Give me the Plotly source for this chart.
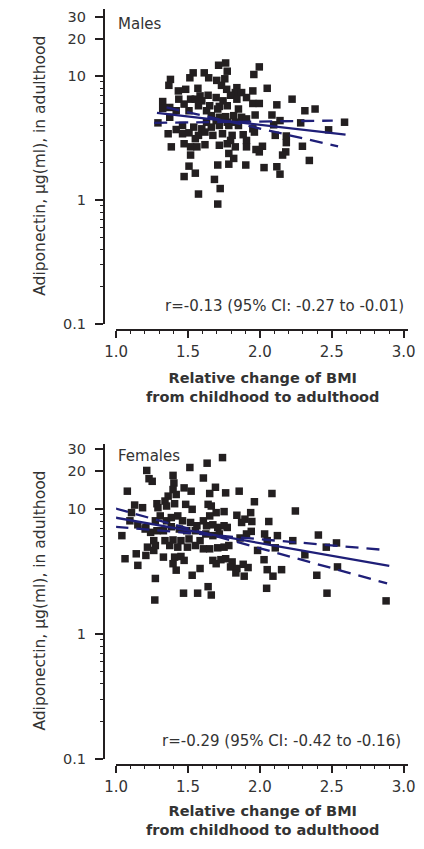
import plotly.graph_objects as go

# ---------------- data ----------------
male_x = [1.713, 1.762, 1.773, 1.536, 1.613, 1.513, 1.644, 1.700, 1.756, 1.378,
          1.367, 1.733, 1.769, 1.840, 1.484, 1.569, 1.433, 1.829, 1.873, 1.796,
          1.584, 1.640, 1.696, 1.436, 1.518, 1.551, 1.596, 1.324, 1.744, 1.840,
          1.907, 1.473, 1.573, 1.651, 1.718, 1.773, 1.324, 1.373, 1.418, 1.507,
          1.629, 1.707, 1.851, 1.373, 1.662, 1.718, 1.762, 1.818, 1.873, 1.907,
          1.291, 1.629, 1.696, 1.773, 1.829, 1.462, 1.540, 1.596, 1.662, 1.718,
          1.784, 1.851, 1.418, 1.362, 1.462, 1.507, 1.573, 1.618, 1.673, 1.740,
          1.807, 1.884, 1.551, 1.796, 1.907, 1.473, 1.618, 1.518, 1.562, 1.384,
          1.718, 1.773, 1.829, 1.907, 1.784, 1.518, 1.707, 1.818, 1.784, 1.902,
          1.507, 1.551, 1.473, 1.684, 1.724, 1.573, 1.707,
          1.996, 1.958, 1.951, 2.051, 1.951, 1.996, 2.224, 2.118, 2.313, 2.384,
          1.967, 2.084, 2.140, 2.284, 2.589, 2.096, 2.478, 1.951, 1.962, 2.107,
          2.184, 2.184, 2.296, 2.018, 1.973, 1.996, 2.180, 2.158, 2.344, 2.029,
          2.118, 2.140]
male_y = [12.24, 12.77, 10.96, 10.63, 10.63, 9.70, 9.70, 9.24, 9.52, 9.41,
          8.43, 8.43, 7.83, 8.07, 7.83, 7.98, 7.60, 7.37, 7.37, 7.01,
          6.93, 7.01, 6.72, 6.52, 6.52, 6.52, 6.32, 6.24, 6.32, 6.52,
          6.72, 5.95, 5.77, 5.77, 5.70, 5.77, 5.49, 5.59, 5.26, 5.26,
          5.26, 5.43, 5.43, 4.66, 4.80, 4.66, 4.71, 4.80, 4.66, 4.52,
          4.20, 4.25, 4.38, 4.25, 4.25, 4.00, 3.88, 3.76, 3.88, 4.00,
          4.00, 4.00, 3.71, 3.43, 3.43, 3.49, 3.33, 3.54, 3.33, 3.43,
          3.33, 3.37, 3.13, 3.03, 3.03, 2.85, 2.80, 2.69, 2.69, 2.69,
          2.77, 2.85, 2.69, 2.69, 2.38, 2.31, 1.92, 2.17, 1.95, 1.92,
          1.88, 1.65, 1.55, 1.47, 1.24, 1.12, 0.93,
          11.87, 10.31, 7.60, 7.98, 6.02, 6.02, 6.52, 5.87, 5.26, 5.43,
          4.86, 4.86, 4.38, 4.20, 4.25, 4.05, 3.69, 3.76, 3.54, 3.33,
          3.29, 2.91, 2.72, 2.72, 2.56, 2.45, 2.45, 2.31, 2.09, 1.83,
          1.86, 1.62]

female_x = [1.213, 1.229, 1.251, 1.396, 1.513, 1.402, 1.078, 1.396, 1.473, 1.522,
            1.362, 1.418, 1.284, 1.340, 1.129, 1.184, 1.107, 1.291, 1.351, 1.407,
            1.484, 1.529, 1.096, 1.151, 1.207, 1.273, 1.307, 1.351, 1.384, 1.429,
            1.462, 1.518, 1.562, 0.989, 1.040, 1.202, 1.240, 1.284, 1.329, 1.384,
            1.440, 1.491, 1.551, 1.262, 1.340, 1.396, 1.451, 1.507, 1.584, 1.218,
            1.273, 1.373, 1.429, 1.496, 1.551, 1.062, 1.140, 1.207, 1.262, 1.329,
            1.407, 1.451, 1.473, 1.396, 1.584, 1.151, 1.418, 1.529, 1.273, 1.269,
            1.469, 1.567, 1.607,
            1.740, 1.633, 1.691, 1.651, 1.762, 1.856, 2.084, 1.962, 1.640, 1.662,
            1.696, 1.651, 1.751, 1.840, 1.936, 1.896, 1.944, 2.062, 2.247, 1.607,
            1.629, 1.673, 1.707, 1.751, 1.773, 1.624, 1.673, 1.718, 1.940, 1.873,
            2.033, 2.122, 2.229, 1.907, 1.862, 2.051, 1.607, 1.651, 1.707, 1.751,
            1.784, 1.984, 2.107, 1.673, 1.696, 1.729, 1.762, 1.807, 1.796, 1.840,
            1.884, 1.918, 1.833, 1.891, 2.029, 2.051, 2.091, 2.151, 1.640, 1.662,
            2.047,
            2.407, 2.462, 2.533, 2.313, 2.540, 2.396, 2.467, 2.878]
female_y = [20.34, 17.47, 16.65, 18.57, 21.48, 16.15, 13.88, 14.30, 14.75, 13.88,
            12.67, 13.06, 11.02, 11.57, 10.75, 10.24, 9.35, 10.24, 10.56, 11.02,
            10.89, 9.94, 8.04, 7.47, 7.12, 8.04, 8.80, 8.04, 8.54, 8.80,
            8.04, 7.80, 7.34, 6.12, 6.12, 6.91, 6.50, 6.70, 6.70, 7.21,
            6.91, 6.70, 6.70, 5.58, 5.58, 5.65, 5.58, 5.76, 5.58, 4.95,
            5.10, 5.10, 4.95, 4.95, 5.10, 4.00, 4.38, 4.25, 4.66, 4.12,
            4.12, 4.17, 3.88, 3.65, 3.34, 3.54, 3.24, 2.95, 2.78, 1.87,
            2.12, 2.12, 17.69,
            25.77, 23.25, 14.92, 13.30, 13.46, 13.88, 13.30, 11.43, 10.89, 10.56,
            9.35, 8.80, 9.53, 8.91, 9.35, 8.29, 7.94, 7.94, 9.64, 8.04,
            7.34, 7.47, 7.12, 7.34, 7.12, 6.31, 6.12, 6.31, 6.62, 7.80,
            6.31, 6.12, 5.58, 6.31, 5.86, 5.58, 4.80, 4.80, 4.89, 4.95,
            5.10, 4.66, 4.89, 3.88, 3.65, 3.93, 4.00, 3.77, 3.44, 3.34,
            3.61, 3.40, 3.08, 2.90, 3.93, 3.27, 2.90, 3.27, 2.39, 2.05,
            2.32,
            6.19, 4.95, 5.35, 4.30, 3.44, 2.95, 2.12, 1.84]

assert len(male_x) == len(male_y)
assert len(female_x) == len(female_y)

# regression line and 95% CI lines
m_fit_x, m_fit_y = [1.284, 2.596], [5.05, 3.37]
m_ci_a_x, m_ci_a_y = [1.265, 2.507], [4.20, 4.38]
m_ci_b_x, m_ci_b_y = [1.351, 2.544], [5.59, 2.72]

f_fit_x, f_fit_y = [0.995, 2.900], [8.53, 3.50]
f_ci_a_x, f_ci_a_y = [0.995, 2.885], [10.1, 2.54]
f_ci_b_x, f_ci_b_y = [0.995, 2.833], [7.21, 4.74]

y_tickvals = [0.1, 1, 10, 20, 30]
y_ticktext = ["0.1", "1", "10", "20", "30"]
y_minor = [0.2, 0.3, 0.4, 0.5, 0.6, 0.7, 0.8, 0.9, 2, 3, 4, 5, 6, 7, 8, 9]
x_tickvals = [1.0, 1.5, 2.0, 2.5, 3.0]
x_ticktext = ["1.0", "1.5", "2.0", "2.5", "3.0"]

panel_labels = ["Males", "Females"]
r_texts = ["r=-0.13 (95% CI: -0.27 to -0.01)", "r=-0.29 (95% CI: -0.42 to -0.16)"]
x_title = "<b>Relative change of BMI</b><br><b>from childhood to adulthood</b>"
y_title = "Adiponectin, μg(ml), in adulthood"

# ---------------- styling ----------------
W, H = 424, 849
FONT = "DejaVu Sans"
TXT = "#333333"
AX = "#231f20"
NAVY = "#1f1f78"
MK = "#231f20"

def px_x(p):
    return p / W

def px_y(p):
    return 1 - p / H

fig = go.Figure()

def add_panel(xs, ys, fx, fy, ax_, ay_, bx_, by_, xa, ya):
    fig.add_trace(go.Scatter(x=xs, y=ys, mode="markers", xaxis=xa, yaxis=ya,
                             marker=dict(symbol="square", size=7.5, color=MK),
                             cliponaxis=False, showlegend=False, hoverinfo="skip"))
    fig.add_trace(go.Scatter(x=fx, y=fy, mode="lines", xaxis=xa, yaxis=ya,
                             line=dict(color=NAVY, width=2.3), showlegend=False,
                             hoverinfo="skip"))
    for lx, ly in [(ax_, ay_), (bx_, by_)]:
        fig.add_trace(go.Scatter(x=lx, y=ly, mode="lines", xaxis=xa, yaxis=ya,
                                 line=dict(color=NAVY, width=2.3, dash="13px,8px"),
                                 showlegend=False, hoverinfo="skip"))

add_panel(male_x, male_y, m_fit_x, m_fit_y, m_ci_a_x, m_ci_a_y, m_ci_b_x, m_ci_b_y, "x", "y")
add_panel(female_x, female_y, f_fit_x, f_fit_y, f_ci_a_x, f_ci_a_y, f_ci_b_x, f_ci_b_y, "x2", "y2")

xdom = [px_x(109), px_x(415)]
xrange_ = [1.0, 1.0 + (415 - 109) / 150.5]

def xaxis_cfg(pos):
    return dict(domain=xdom, range=xrange_, anchor="free", position=pos,
                showline=True, linecolor=AX, linewidth=1.5,
                showgrid=False, zeroline=False,
                tickmode="array", tickvals=x_tickvals, ticktext=x_ticktext,
                ticks="outside", ticklen=7, tickwidth=1.5, tickcolor=AX,
                minor=dict(dtick=0.1, tick0=1.0, ticks="outside", ticklen=3,
                           tickwidth=1, tickcolor=AX, showgrid=False),
                tickfont=dict(family=FONT, size=15, color=TXT),
                ticklabelstandoff=1, fixedrange=True)

def yaxis_cfg(dom, top):
    return dict(domain=dom, type="log", range=[-1, top], anchor="free",
                position=px_x(96),
                showline=True, linecolor=AX, linewidth=1.5,
                showgrid=False, zeroline=False,
                tickmode="array", tickvals=y_tickvals, ticktext=y_ticktext,
                ticks="outside", ticklen=8, tickwidth=1.5, tickcolor=AX,
                minor=dict(tickvals=y_minor, ticks="outside", ticklen=3,
                           tickwidth=1, tickcolor=AX, showgrid=False),
                tickfont=dict(family=FONT, size=14.5, color=TXT),
                ticklabelstandoff=6, fixedrange=True)

annotations = []
# panel labels, r-texts, axis titles
tops = [(22, 308, 390, 166, 412), (459, 748, 828, 606, 409)]
for i, (lab_y, r_y, xt_y, yt_c, r_x) in enumerate(tops):
    annotations.append(dict(text=panel_labels[i], x=px_x(109), y=px_y(lab_y),
                            xref="paper", yref="paper", xanchor="left", yanchor="middle",
                            showarrow=False, font=dict(family=FONT, size=15, color=TXT)))
    annotations.append(dict(text=r_texts[i], x=px_x(r_x), y=px_y(r_y),
                            xref="paper", yref="paper", xanchor="right", yanchor="middle",
                            showarrow=False, font=dict(family=FONT, size=15, color=TXT)))
    annotations.append(dict(text=x_title, x=px_x(262), y=px_y(xt_y),
                            xref="paper", yref="paper", xanchor="center", yanchor="middle",
                            showarrow=False, font=dict(family=FONT, size=14.5, color=TXT)))
    annotations.append(dict(text=y_title, x=px_x(29), y=px_y(yt_c), textangle=-90,
                            xref="paper", yref="paper", xanchor="center", yanchor="middle",
                            showarrow=False, font=dict(family=FONT, size=15.5, color=TXT)))

fig.update_layout(
    width=W, height=H, autosize=False,
    margin=dict(l=0, r=0, t=0, b=0),
    paper_bgcolor="white", plot_bgcolor="white",
    xaxis=xaxis_cfg(px_y(332)),
    yaxis=yaxis_cfg([px_y(326), px_y(7)], 1.542),
    xaxis2=xaxis_cfg(px_y(772)),
    yaxis2=yaxis_cfg([px_y(766), px_y(447)], 1.522),
    annotations=annotations,
    showlegend=False,
)

fig.write_html("out.html", config={"displayModeBar": False})
